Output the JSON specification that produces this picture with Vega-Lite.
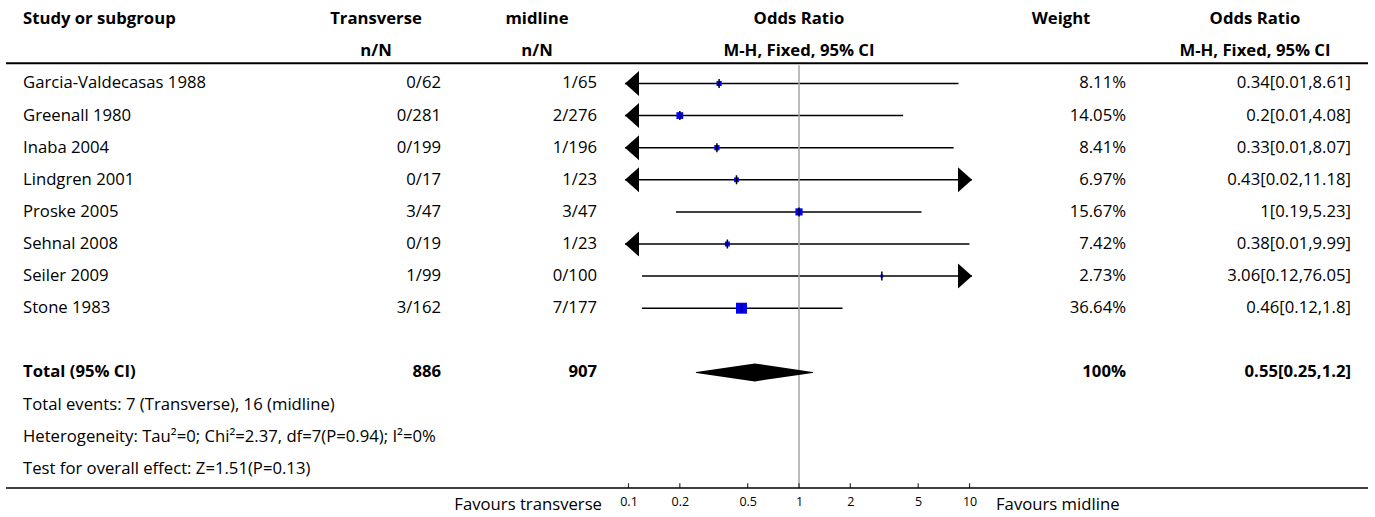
{
  "$schema": "https://vega.github.io/schema/vega-lite/v6.json",
  "padding": {"left": 5, "top": 0, "right": 0, "bottom": 0},
  "bounds": "flush",
  "spacing": 0,
  "datasets": {
    "studies": [
      {"study": "Garcia-Valdecasas 1988", "trans": "0/62", "mid": "1/65", "or": 0.34, "lo": 0.01, "hi": 8.61, "weight": 8.11, "wtext": "8.11%", "ortext": "0.34[0.01,8.61]"},
      {"study": "Greenall 1980", "trans": "0/281", "mid": "2/276", "or": 0.2, "lo": 0.01, "hi": 4.08, "weight": 14.05, "wtext": "14.05%", "ortext": "0.2[0.01,4.08]"},
      {"study": "Inaba 2004", "trans": "0/199", "mid": "1/196", "or": 0.33, "lo": 0.01, "hi": 8.07, "weight": 8.41, "wtext": "8.41%", "ortext": "0.33[0.01,8.07]"},
      {"study": "Lindgren 2001", "trans": "0/17", "mid": "1/23", "or": 0.43, "lo": 0.02, "hi": 11.18, "weight": 6.97, "wtext": "6.97%", "ortext": "0.43[0.02,11.18]"},
      {"study": "Proske 2005", "trans": "3/47", "mid": "3/47", "or": 1, "lo": 0.19, "hi": 5.23, "weight": 15.67, "wtext": "15.67%", "ortext": "1[0.19,5.23]"},
      {"study": "Sehnal 2008", "trans": "0/19", "mid": "1/23", "or": 0.38, "lo": 0.01, "hi": 9.99, "weight": 7.42, "wtext": "7.42%", "ortext": "0.38[0.01,9.99]"},
      {"study": "Seiler 2009", "trans": "1/99", "mid": "0/100", "or": 3.06, "lo": 0.12, "hi": 76.05, "weight": 2.73, "wtext": "2.73%", "ortext": "3.06[0.12,76.05]"},
      {"study": "Stone 1983", "trans": "3/162", "mid": "7/177", "or": 0.46, "lo": 0.12, "hi": 1.8, "weight": 36.64, "wtext": "36.64%", "ortext": "0.46[0.12,1.8]"}
    ],
    "headers": [
      {"col": "study", "row": "h1", "label": "Study or subgroup"},
      {"col": "trans", "row": "h1", "label": "Transverse"},
      {"col": "trans", "row": "h2", "label": "n/N"},
      {"col": "mid", "row": "h1", "label": "midline"},
      {"col": "mid", "row": "h2", "label": "n/N"},
      {"col": "forest", "row": "h1", "label": "Odds Ratio"},
      {"col": "forest", "row": "h2", "label": "M-H, Fixed, 95% CI"},
      {"col": "weight", "row": "h1", "label": "Weight"},
      {"col": "ortext", "row": "h1", "label": "Odds Ratio"},
      {"col": "ortext", "row": "h2", "label": "M-H, Fixed, 95% CI"}
    ],
    "total": [
      {"row": "Total (95% CI)", "label": "Total (95% CI)", "trans": "886", "mid": "907", "wtext": "100%", "ortext": "0.55[0.25,1.2]"}
    ],
    "diamond": [
      {"row": "Total (95% CI)", "or": 0.25, "h": 0},
      {"row": "Total (95% CI)", "or": 0.55, "h": 1},
      {"row": "Total (95% CI)", "or": 1.2, "h": 0}
    ],
    "notes": [
      {"row": "f1", "label": "Total events: 7 (Transverse), 16 (midline)"},
      {"row": "f2", "label": "Heterogeneity: Tau²=0; Chi²=2.37, df=7(P=0.94); I²=0%"},
      {"row": "f3", "label": "Test for overall effect: Z=1.51(P=0.13)"}
    ],
    "favours": [
      {"side": "left", "label": "Favours transverse"},
      {"side": "right", "label": "Favours midline"}
    ],
    "axisvals": [{"t": 0.1}, {"t": 0.2}, {"t": 0.5}, {"t": 1}, {"t": 2}, {"t": 5}, {"t": 10}],
    "one": [{}]
  },
  "hconcat": [
    {
      "width": 325, "height": 488,
      "layer": [
        {"data": {"name": "headers"}, "transform": [{"filter": "datum.col === 'study'"}],
         "mark": {"type": "text", "align": "left", "dx": 17, "fontWeight": "bold"},
         "encoding": {"x": {"value": 0}, "y": {"field": "row", "type": "nominal", "sort": null, "axis": null, "scale": {"type": "point", "padding": 0.6, "domain": ["h1","h2","Garcia-Valdecasas 1988","Greenall 1980","Inaba 2004","Lindgren 2001","Proske 2005","Sehnal 2008","Seiler 2009","Stone 1983","blank","Total (95% CI)","f1","f2","f3"]}}, "text": {"field": "label"}}},
        {"data": {"name": "studies"},
         "mark": {"type": "text", "align": "left", "dx": 17},
         "encoding": {"x": {"value": 0}, "y": {"field": "study", "type": "nominal", "sort": null, "axis": null}, "text": {"field": "study"}}},
        {"data": {"name": "total"},
         "mark": {"type": "text", "align": "left", "dx": 17, "fontWeight": "bold"},
         "encoding": {"x": {"value": 0}, "y": {"field": "row", "type": "nominal", "sort": null, "axis": null}, "text": {"field": "label"}}},
        {"data": {"name": "notes"},
         "mark": {"type": "text", "align": "left", "dx": 17},
         "encoding": {"x": {"value": 0}, "y": {"field": "row", "type": "nominal", "sort": null, "axis": null}, "text": {"field": "label"}}},
        {"data": {"name": "one"},
         "mark": {"type": "rule", "strokeWidth": 2, "yOffset": 12},
         "encoding": {"x": {"value": 0}, "x2": {"value": "width"}, "y": {"datum": "h2", "type": "nominal", "axis": null}}},
        {"data": {"name": "one"},
         "mark": {"type": "rule", "strokeWidth": 1.5},
         "encoding": {"x": {"value": 0}, "x2": {"value": "width"}, "y": {"value": "height"}}}
      ]
    },
    {
      "width": 110, "height": 488,
      "layer": [
        {"data": {"name": "headers"}, "transform": [{"filter": "datum.col === 'trans'"}],
         "mark": {"type": "text", "align": "center", "dx": -65, "fontWeight": "bold"},
         "encoding": {"x": {"value": "width"}, "y": {"field": "row", "type": "nominal", "sort": null, "axis": null, "scale": {"type": "point", "padding": 0.6, "domain": ["h1","h2","Garcia-Valdecasas 1988","Greenall 1980","Inaba 2004","Lindgren 2001","Proske 2005","Sehnal 2008","Seiler 2009","Stone 1983","blank","Total (95% CI)","f1","f2","f3"]}}, "text": {"field": "label"}}},
        {"data": {"name": "studies"},
         "mark": {"type": "text", "align": "right"},
         "encoding": {"x": {"value": "width"}, "y": {"field": "study", "type": "nominal", "sort": null, "axis": null}, "text": {"field": "trans"}}},
        {"data": {"name": "total"},
         "mark": {"type": "text", "align": "right", "fontWeight": "bold"},
         "encoding": {"x": {"value": "width"}, "y": {"field": "row", "type": "nominal", "sort": null, "axis": null}, "text": {"field": "trans"}}},
        {"data": {"name": "one"},
         "mark": {"type": "rule", "strokeWidth": 2, "yOffset": 12},
         "encoding": {"x": {"value": 0}, "x2": {"value": "width"}, "y": {"datum": "h2", "type": "nominal", "axis": null}}},
        {"data": {"name": "one"},
         "mark": {"type": "rule", "strokeWidth": 1.5},
         "encoding": {"x": {"value": 0}, "x2": {"value": "width"}, "y": {"value": "height"}}}
      ]
    },
    {
      "width": 184, "height": 488,
      "layer": [
        {"data": {"name": "headers"}, "transform": [{"filter": "datum.col === 'mid'"}],
         "mark": {"type": "text", "align": "center", "dx": -88, "fontWeight": "bold"},
         "encoding": {"x": {"value": "width"}, "y": {"field": "row", "type": "nominal", "sort": null, "axis": null, "scale": {"type": "point", "padding": 0.6, "domain": ["h1","h2","Garcia-Valdecasas 1988","Greenall 1980","Inaba 2004","Lindgren 2001","Proske 2005","Sehnal 2008","Seiler 2009","Stone 1983","blank","Total (95% CI)","f1","f2","f3"]}}, "text": {"field": "label"}}},
        {"data": {"name": "studies"},
         "mark": {"type": "text", "align": "right", "dx": -28},
         "encoding": {"x": {"value": "width"}, "y": {"field": "study", "type": "nominal", "sort": null, "axis": null}, "text": {"field": "mid"}}},
        {"data": {"name": "total"},
         "mark": {"type": "text", "align": "right", "dx": -28, "fontWeight": "bold"},
         "encoding": {"x": {"value": "width"}, "y": {"field": "row", "type": "nominal", "sort": null, "axis": null}, "text": {"field": "mid"}}},
        {"data": {"name": "favours"}, "transform": [{"filter": "datum.side === 'left'"}],
         "mark": {"type": "text", "align": "right", "dx": -23, "dy": 17},
         "encoding": {"x": {"value": "width"}, "y": {"value": "height"}, "text": {"field": "label"}}},
        {"data": {"name": "one"},
         "mark": {"type": "rule", "strokeWidth": 2, "yOffset": 12},
         "encoding": {"x": {"value": 0}, "x2": {"value": "width"}, "y": {"datum": "h2", "type": "nominal", "axis": null}}},
        {"data": {"name": "one"},
         "mark": {"type": "rule", "strokeWidth": 1.5},
         "encoding": {"x": {"value": 0}, "x2": {"value": "width"}, "y": {"value": "height"}}}
      ]
    },
    {
      "width": 347, "height": 488,
      "resolve": {"scale": {"size": "independent"}},
      "layer": [
        {"data": {"name": "studies"},
         "mark": {"type": "rule", "strokeWidth": 1.5, "clip": true},
         "encoding": {
           "x": {"field": "lo", "type": "quantitative", "title": null,
                 "scale": {"type": "log", "domain": [0.0954, 10.34], "nice": false},
                 "axis": {"values": [0.1, 0.2, 0.5, 1, 2, 5, 10], "format": "~g", "title": null}},
           "x2": {"field": "hi"},
           "y": {"field": "study", "type": "nominal", "sort": null, "axis": null, "scale": {"type": "point", "padding": 0.6, "domain": ["h1","h2","Garcia-Valdecasas 1988","Greenall 1980","Inaba 2004","Lindgren 2001","Proske 2005","Sehnal 2008","Seiler 2009","Stone 1983","blank","Total (95% CI)","f1","f2","f3"]}}}},
        {"data": {"name": "headers"}, "transform": [{"filter": "datum.col === 'forest'"}],
         "mark": {"type": "text", "align": "center", "fontWeight": "bold"},
         "encoding": {"x": {"datum": 1, "type": "quantitative", "title": null}, "y": {"field": "row", "type": "nominal", "sort": null, "axis": null}, "text": {"field": "label"}}},
        {"data": {"name": "one"},
         "mark": {"type": "rule", "color": "#a6a6a6", "strokeWidth": 1.5, "yOffset": 14},
         "encoding": {"x": {"datum": 1, "type": "quantitative", "title": null}, "y": {"datum": "h2", "type": "nominal", "axis": null}, "y2": {"value": "height"}}},
        {"data": {"name": "axisvals"},
         "mark": {"type": "rule", "strokeWidth": 1.2, "color": "#333333", "yOffset": 14.5},
         "encoding": {"x": {"field": "t", "type": "quantitative", "title": null}, "y": {"datum": "f3", "type": "nominal", "axis": null}, "y2": {"value": "height"}}},
        {"data": {"name": "studies"}, "transform": [{"filter": "datum.lo < 0.0954"}],
         "mark": {"type": "point", "shape": "M0,0L1.12,-1L1.12,1Z", "filled": true, "size": 625, "opacity": 1, "strokeWidth": 0},
         "encoding": {"x": {"value": 0}, "y": {"field": "study", "type": "nominal", "sort": null, "axis": null}}},
        {"data": {"name": "studies"}, "transform": [{"filter": "datum.hi > 10.34"}],
         "mark": {"type": "point", "shape": "M0,0L-1.12,-1L-1.12,1Z", "filled": true, "size": 625, "opacity": 1, "strokeWidth": 0},
         "encoding": {"x": {"value": "width"}, "y": {"field": "study", "type": "nominal", "sort": null, "axis": null}}},
        {"data": {"name": "studies"},
         "mark": {"type": "square", "color": "#0000ff", "filled": true, "opacity": 1},
         "encoding": {
           "x": {"field": "or", "type": "quantitative", "title": null},
           "y": {"field": "study", "type": "nominal", "sort": null, "axis": null},
           "size": {"field": "weight", "type": "quantitative", "scale": {"domain": [0, 36.64], "range": [0, 120]}, "legend": null}}},
        {"data": {"name": "studies"},
         "mark": {"type": "tick", "orient": "vertical", "size": 9, "thickness": 1.5, "opacity": 1},
         "encoding": {
           "x": {"field": "or", "type": "quantitative", "title": null},
           "y": {"field": "study", "type": "nominal", "sort": null, "axis": null}}},
        {"data": {"name": "diamond"},
         "mark": {"type": "trail", "opacity": 1},
         "encoding": {
           "x": {"field": "or", "type": "quantitative", "title": null},
           "y": {"field": "row", "type": "nominal", "sort": null, "axis": null},
           "size": {"field": "h", "type": "quantitative", "scale": {"domain": [0, 1], "range": [0, 18]}, "legend": null}}},
        {"data": {"name": "one"},
         "mark": {"type": "rule", "strokeWidth": 2, "yOffset": 12},
         "encoding": {"x": {"value": 0}, "x2": {"value": "width"}, "y": {"datum": "h2", "type": "nominal", "axis": null}}},
        {"data": {"name": "one"},
         "mark": {"type": "rule", "strokeWidth": 1.5},
         "encoding": {"x": {"value": 0}, "x2": {"value": "width"}, "y": {"value": "height"}}}
      ]
    },
    {
      "width": 154, "height": 488,
      "layer": [
        {"data": {"name": "headers"}, "transform": [{"filter": "datum.col === 'weight'"}],
         "mark": {"type": "text", "align": "center", "dx": -65, "fontWeight": "bold"},
         "encoding": {"x": {"value": "width"}, "y": {"field": "row", "type": "nominal", "sort": null, "axis": null, "scale": {"type": "point", "padding": 0.6, "domain": ["h1","h2","Garcia-Valdecasas 1988","Greenall 1980","Inaba 2004","Lindgren 2001","Proske 2005","Sehnal 2008","Seiler 2009","Stone 1983","blank","Total (95% CI)","f1","f2","f3"]}}, "text": {"field": "label"}}},
        {"data": {"name": "studies"},
         "mark": {"type": "text", "align": "right"},
         "encoding": {"x": {"value": "width"}, "y": {"field": "study", "type": "nominal", "sort": null, "axis": null}, "text": {"field": "wtext"}}},
        {"data": {"name": "total"},
         "mark": {"type": "text", "align": "right", "fontWeight": "bold"},
         "encoding": {"x": {"value": "width"}, "y": {"field": "row", "type": "nominal", "sort": null, "axis": null}, "text": {"field": "wtext"}}},
        {"data": {"name": "favours"}, "transform": [{"filter": "datum.side === 'right'"}],
         "mark": {"type": "text", "align": "left", "dx": 24, "dy": 17},
         "encoding": {"x": {"value": 0}, "y": {"value": "height"}, "text": {"field": "label"}}},
        {"data": {"name": "one"},
         "mark": {"type": "rule", "strokeWidth": 2, "yOffset": 12},
         "encoding": {"x": {"value": 0}, "x2": {"value": "width"}, "y": {"datum": "h2", "type": "nominal", "axis": null}}},
        {"data": {"name": "one"},
         "mark": {"type": "rule", "strokeWidth": 1.5},
         "encoding": {"x": {"value": 0}, "x2": {"value": "width"}, "y": {"value": "height"}}}
      ]
    },
    {
      "width": 242, "height": 488,
      "layer": [
        {"data": {"name": "headers"}, "transform": [{"filter": "datum.col === 'ortext'"}],
         "mark": {"type": "text", "align": "center", "dx": -113, "fontWeight": "bold"},
         "encoding": {"x": {"value": "width"}, "y": {"field": "row", "type": "nominal", "sort": null, "axis": null, "scale": {"type": "point", "padding": 0.6, "domain": ["h1","h2","Garcia-Valdecasas 1988","Greenall 1980","Inaba 2004","Lindgren 2001","Proske 2005","Sehnal 2008","Seiler 2009","Stone 1983","blank","Total (95% CI)","f1","f2","f3"]}}, "text": {"field": "label"}}},
        {"data": {"name": "studies"},
         "mark": {"type": "text", "align": "right", "dx": -17},
         "encoding": {"x": {"value": "width"}, "y": {"field": "study", "type": "nominal", "sort": null, "axis": null}, "text": {"field": "ortext"}}},
        {"data": {"name": "total"},
         "mark": {"type": "text", "align": "right", "dx": -17, "fontWeight": "bold"},
         "encoding": {"x": {"value": "width"}, "y": {"field": "row", "type": "nominal", "sort": null, "axis": null}, "text": {"field": "ortext"}}},
        {"data": {"name": "one"},
         "mark": {"type": "rule", "strokeWidth": 2, "yOffset": 12},
         "encoding": {"x": {"value": 0}, "x2": {"value": "width"}, "y": {"datum": "h2", "type": "nominal", "axis": null}}},
        {"data": {"name": "one"},
         "mark": {"type": "rule", "strokeWidth": 1.5},
         "encoding": {"x": {"value": 0}, "x2": {"value": "width"}, "y": {"value": "height"}}}
      ]
    }
  ],
  "config": {
    "view": {"stroke": null},
    "mark": {"color": "black"},
    "text": {"font": "Open Sans", "fontSize": 16.7, "baseline": "middle", "color": "black"},
    "axisX": {"domain": false, "grid": false, "ticks": false, "labelPadding": 7, "labelFontSize": 12.5, "labelColor": "black", "labelFont": "Open Sans", "labelFlush": false, "labelOverlap": false}
  }
}
